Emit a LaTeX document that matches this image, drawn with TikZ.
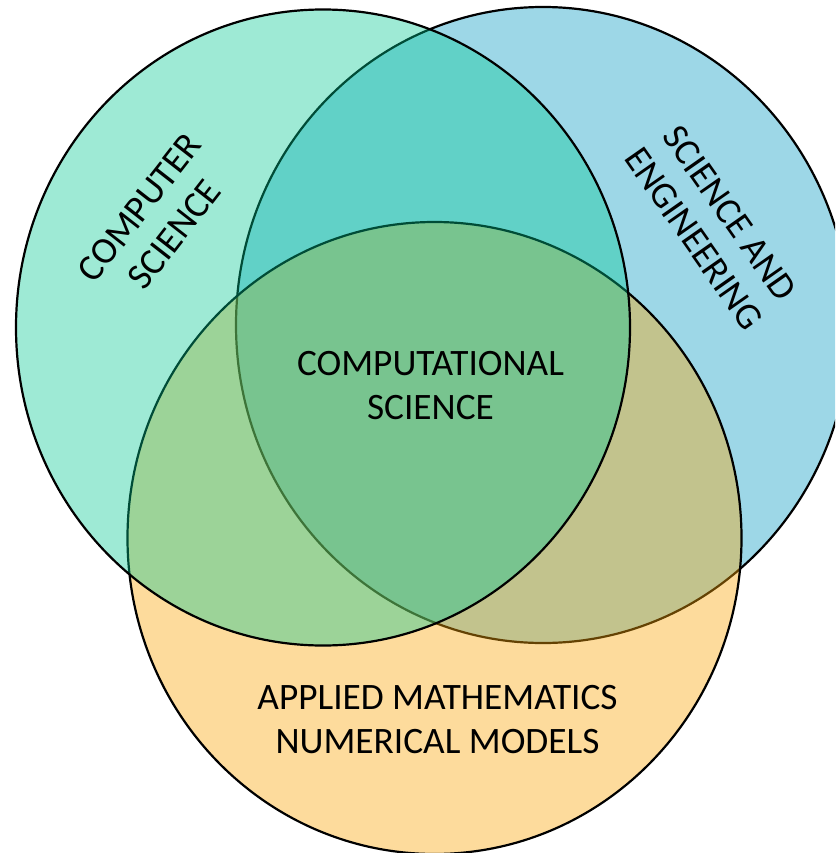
\documentclass[tikz,border=0pt]{standalone}
\usepackage{fontspec}
\setmainfont{Carlito}
\definecolor{csfill}{RGB}{0,200,147}
\definecolor{sefill}{RGB}{10,157,195}
\definecolor{amfill}{RGB}{250,165,8}
\begin{document}
\begin{tikzpicture}[x=1pt,y=-1pt,
  venn/.style={draw=black, line width=2.2pt},
  lbl/.style={align=center, inner sep=0pt, text=black,
    font=\fontsize{37.3}{44}\selectfont}]
\clip (0,0) rectangle (835,853);
\fill[white] (0,0) rectangle (835,853);
% Science and Engineering (drawn first)
\filldraw[venn, fill=sefill, fill opacity=0.4] (543,325) ellipse [x radius=307pt, y radius=318pt];
% Applied Mathematics
\filldraw[venn, fill=amfill, fill opacity=0.4] (434.5,538) ellipse [x radius=307pt, y radius=316pt];
% Computer Science (on top)
\filldraw[venn, fill=csfill, fill opacity=0.38] (323,327.5) ellipse [x radius=307pt, y radius=318pt];
% labels
\node[lbl, rotate=52] (cs) at (157,221) {COMPUTER\\SCIENCE};
\node[lbl, rotate=-55] (se) at (712,226) {SCIENCE AND\\ENGINEERING};
\node[lbl] (cmp) at (430.5,385.5) {COMPUTATIONAL\\SCIENCE};
\node[lbl] (am) at (437.5,720) {APPLIED MATHEMATICS\\NUMERICAL MODELS};
\end{tikzpicture}
\end{document}
